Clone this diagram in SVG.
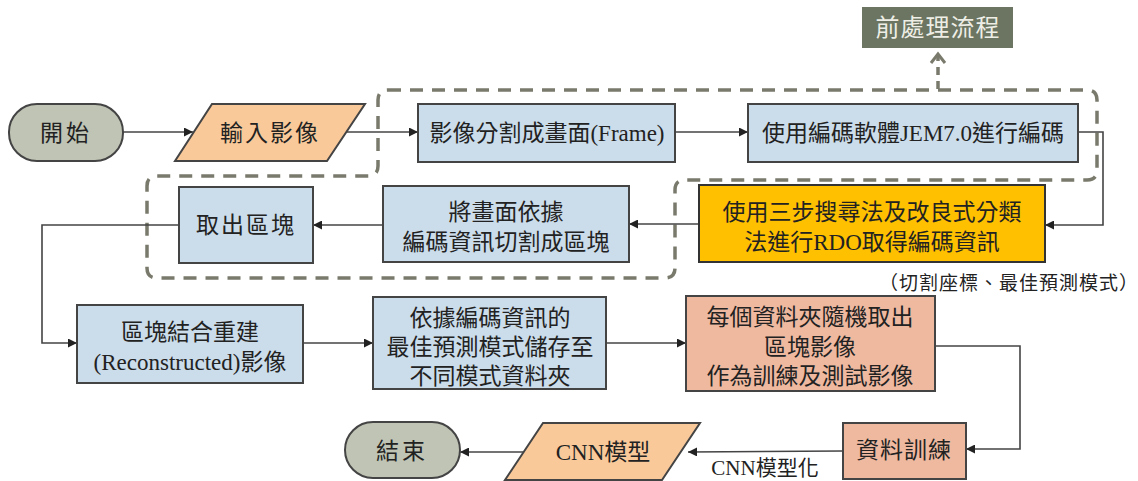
<svg xmlns="http://www.w3.org/2000/svg" width="1138" height="481" viewBox="0 0 1138 481">
<defs>
<marker id="arr" viewBox="0 0 10 10" refX="10" refY="5" markerWidth="9" markerHeight="9" markerUnits="userSpaceOnUse" orient="auto">
<path d="M0,0 L10,5 L0,10 z" fill="#222"/>
</marker>
<style>
.t{font-family:"Liberation Serif","Noto Sans CJK TC",serif;font-size:23px;fill:#222;text-anchor:middle;dominant-baseline:central}
.term{fill:#bfc4b4;stroke:#444;stroke-width:2}
.io{fill:#f9c99a;stroke:#444;stroke-width:2}
.blue{fill:#cbdcea;stroke:#444;stroke-width:2}
.salmon{fill:#efb9a0;stroke:#444;stroke-width:2}
.yellow{fill:#ffc000;stroke:#333;stroke-width:2}
.c{fill:none;stroke:#444;stroke-width:1.6}
.dash{fill:none;stroke:#7a7a6c;stroke-width:3.5;stroke-dasharray:13 9}
</style>
</defs>
<rect width="1138" height="481" fill="#ffffff"/>

<g id="group-dashed">
<path class="dash" d="M388,90 H1087 Q1097,90 1097,100 V170 Q1097,180 1087,180 H685 Q675,180 675,190 V268 Q675,278 665,278 H157 Q147,278 147,268 V186 Q147,176 157,176 H368 Q378,176 378,166 V100 Q378,90 388,90 Z"/>
</g>

<g id="connectors">
<line class="c" x1="123" y1="132" x2="193" y2="132" marker-end="url(#arr)"/>
<line class="c" x1="347" y1="132" x2="418" y2="132" marker-end="url(#arr)"/>
<line class="c" x1="675" y1="132" x2="748" y2="132" marker-end="url(#arr)"/>
<polyline class="c" points="1078,132 1103,132 1103,225 1045,225" marker-end="url(#arr)"/>
<line class="c" x1="699" y1="224" x2="629" y2="224" marker-end="url(#arr)"/>
<line class="c" x1="383" y1="225" x2="313" y2="225" marker-end="url(#arr)"/>
<polyline class="c" points="179,225 42,225 42,343 77,343" marker-end="url(#arr)"/>
<line class="c" x1="303" y1="343" x2="373" y2="343" marker-end="url(#arr)"/>
<line class="c" x1="606" y1="343" x2="686" y2="343" marker-end="url(#arr)"/>
<polyline class="c" points="935,346 1020,346 1020,449 966,449" marker-end="url(#arr)"/>
<line class="c" x1="843" y1="451" x2="688" y2="452" marker-end="url(#arr)"/>
<line class="c" x1="523" y1="452" x2="460" y2="452" marker-end="url(#arr)"/>
<line x1="938" y1="89" x2="938" y2="56" stroke="#7a7a6c" stroke-width="3.5" stroke-dasharray="8 6"/>
<polyline points="931,63 938,54 945,63" fill="none" stroke="#7a7a6c" stroke-width="3"/>
<text class="t" x="765" y="468" style="font-size:21px">CNN模型化</text>
</g>

<g id="n-start">
<rect class="term" x="9" y="104" width="114" height="57" rx="28" ry="28"/>
<text class="t" x="66" y="133" letter-spacing="3">開始</text>
</g>

<g id="n-input">
<polygon class="io" points="212,104 365,104 327,161 175,161"/>
<text class="t" x="270" y="133" letter-spacing="2">輸入影像</text>
</g>

<g id="n-frame">
<rect class="blue" x="418" y="104" width="257" height="58"/>
<text class="t" x="547" y="133">影像分割成畫面(Frame)</text>
</g>

<g id="n-jem">
<rect class="blue" x="748" y="104" width="330" height="58"/>
<text class="t" x="913" y="133">使用編碼軟體JEM7.0進行編碼</text>
</g>

<g id="n-pre">
<rect x="862" y="7" width="151" height="41" fill="#6b7561"/>
<text class="t" x="938" y="28" style="fill:#eeeee6;font-size:24px" letter-spacing="1">前處理流程</text>
</g>

<g id="n-rdo">
<rect class="yellow" x="699" y="185" width="346" height="77"/>
<text class="t" x="872" y="212">使用三步搜尋法及改良式分類</text>
<text class="t" x="872" y="242">法進行RDO取得編碼資訊</text>
</g>

<g id="n-note">
<text class="t" x="1009" y="283" style="font-size:19px" letter-spacing="1">（切割座標、最佳預測模式）</text>
</g>

<g id="n-split">
<rect class="blue" x="383" y="186" width="246" height="76"/>
<text class="t" x="506" y="212">將畫面依據</text>
<text class="t" x="506" y="242">編碼資訊切割成區塊</text>
</g>

<g id="n-take">
<rect class="blue" x="179" y="187" width="134" height="76"/>
<text class="t" x="246" y="225" letter-spacing="2">取出區塊</text>
</g>

<g id="n-recon">
<rect class="blue" x="77" y="305" width="226" height="78"/>
<text class="t" x="190" y="332">區塊結合重建</text>
<text class="t" x="190" y="362">(Reconstructed)影像</text>
</g>

<g id="n-store">
<rect class="blue" x="373" y="297" width="233" height="92"/>
<text class="t" x="490" y="318">依據編碼資訊的</text>
<text class="t" x="490" y="347">最佳預測模式儲存至</text>
<text class="t" x="490" y="376">不同模式資料夾</text>
</g>

<g id="n-sample">
<rect class="salmon" x="686" y="296" width="249" height="95"/>
<text class="t" x="810" y="317">每個資料夾隨機取出</text>
<text class="t" x="810" y="347">區塊影像</text>
<text class="t" x="810" y="376">作為訓練及測試影像</text>
</g>

<g id="n-train">
<rect class="salmon" x="843" y="423" width="123" height="56"/>
<text class="t" x="904" y="450" letter-spacing="1">資料訓練</text>
</g>

<g id="n-cnn">
<polygon class="io" points="543,423 700,423 662,480 505,480"/>
<text class="t" x="603" y="452">CNN模型</text>
</g>

<g id="n-end">
<rect class="term" x="345" y="422" width="115" height="56" rx="28" ry="28"/>
<text class="t" x="402" y="451" letter-spacing="3">結束</text>
</g>
</svg>
